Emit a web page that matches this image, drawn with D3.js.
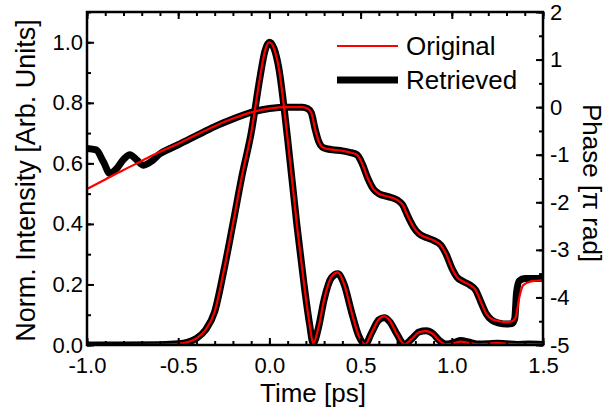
<!DOCTYPE html>
<html>
<head>
<meta charset="utf-8">
<script src="https://cdn.jsdelivr.net/npm/d3@7"></script>
<style>
	html, body { margin: 0; padding: 0; background: #fff; }
	svg { display: block; font-family: "Liberation Sans", Arial, sans-serif; }
</style>
</head>
<body>
<div id="chart"></div>
<script>
// intensity (left axis)
var timeI = [-1.0, -0.8, -0.6, -0.5, -0.45, -0.4, -0.35, -0.3, -0.25, -0.2, -0.15, -0.1, -0.05, -0.025, 0.0, 0.025, 0.05, 0.1, 0.15, 0.19, 0.22, 0.24,
	0.27, 0.30, 0.34, 0.375, 0.41, 0.45, 0.49, 0.525, 0.56, 0.60, 0.63, 0.66, 0.70, 0.74, 0.78, 0.82, 0.86, 0.90, 0.93, 0.97,
	1.01, 1.05, 1.09, 1.15, 1.20, 1.25, 1.30, 1.36, 1.42, 1.5];
var intensityOrig = [0.0, 0.0, 0.001, 0.004, 0.009, 0.022, 0.05, 0.11, 0.245, 0.40, 0.56, 0.70, 0.89, 0.97, 1.0, 0.98, 0.92, 0.68, 0.40, 0.20, 0.07, 0.005,
	0.06, 0.15, 0.225, 0.24, 0.20, 0.11, 0.03, 0.002, 0.04, 0.085, 0.095, 0.08, 0.035, 0.002, 0.02, 0.042, 0.046, 0.035, 0.015, 0.002,
	0.006, 0.011, 0.007, 0.002, 0.004, 0.007, 0.004, 0.002, 0.003, 0.002];
var intensityRetr = [0.0, 0.0, 0.001, 0.004, 0.009, 0.022, 0.05, 0.11, 0.245, 0.40, 0.56, 0.70, 0.89, 0.97, 1.0, 0.98, 0.92, 0.68, 0.40, 0.20, 0.07, 0.005,
	0.06, 0.15, 0.222, 0.235, 0.20, 0.11, 0.03, 0.002, 0.04, 0.083, 0.09, 0.077, 0.035, 0.002, 0.02, 0.043, 0.047, 0.036, 0.016, 0.003,
	0.008, 0.015, 0.01, 0.003, 0.004, 0.006, 0.004, 0.002, 0.003, 0.002];

// phase (right axis, pi rad)
var timeP = [-1.0, -0.9, -0.8, -0.7, -0.6, -0.5, -0.4, -0.3, -0.2, -0.1, 0.0, 0.1, 0.18, 0.21, 0.23, 0.25, 0.27, 0.29, 0.32, 0.36,
	0.40, 0.44, 0.48, 0.51, 0.54, 0.57, 0.60, 0.65, 0.70, 0.73, 0.76, 0.79, 0.82, 0.86, 0.90, 0.94, 0.97, 1.00, 1.03, 1.06,
	1.10, 1.13, 1.16, 1.19, 1.22, 1.26, 1.30, 1.33, 1.35, 1.37, 1.39, 1.42, 1.46, 1.5];
var phaseOrig = [-1.72, -1.52, -1.32, -1.13, -0.94, -0.77, -0.58, -0.40, -0.24, -0.11, -0.03, 0.0, 0.0, -0.03, -0.12, -0.45, -0.72, -0.84, -0.88, -0.90,
	-0.92, -0.95, -1.0, -1.2, -1.5, -1.72, -1.82, -1.88, -1.95, -2.05, -2.3, -2.52, -2.66, -2.74, -2.8, -2.9, -3.1, -3.38, -3.58, -3.66,
	-3.74, -3.84, -4.1, -4.35, -4.46, -4.5, -4.52, -4.5, -4.42, -4.0, -3.75, -3.68, -3.65, -3.64];

var timePR = [-1.0, -0.95, -0.91, -0.875, -0.84, -0.8, -0.765, -0.73, -0.69, -0.64, -0.6, -0.55, -0.5, -0.4, -0.3, -0.2, -0.1, 0.0, 0.1, 0.18,
	0.21, 0.23, 0.25, 0.27, 0.29, 0.32, 0.36, 0.40, 0.44, 0.48, 0.51, 0.54, 0.57, 0.60, 0.65, 0.70, 0.73, 0.76, 0.79, 0.82,
	0.86, 0.90, 0.94, 0.97, 1.00, 1.03, 1.06, 1.10, 1.13, 1.16, 1.19, 1.22, 1.26, 1.30, 1.33, 1.345, 1.355, 1.37, 1.40, 1.5];
var phaseRetr = [-0.87, -0.9, -1.15, -1.39, -1.3, -1.1, -1.0, -1.1, -1.22, -1.12, -0.98, -0.88, -0.79, -0.60, -0.41, -0.25, -0.11, -0.03, 0.0, 0.0,
	-0.03, -0.12, -0.45, -0.72, -0.84, -0.88, -0.90, -0.92, -0.95, -1.0, -1.2, -1.5, -1.72, -1.82, -1.88, -1.95, -2.05, -2.3, -2.52, -2.66,
	-2.74, -2.8, -2.9, -3.1, -3.38, -3.58, -3.66, -3.74, -3.84, -4.1, -4.35, -4.48, -4.54, -4.56, -4.55, -4.45, -3.9, -3.65, -3.6, -3.6];

var xTicks = [-1.0, -0.5, 0.0, 0.5, 1.0, 1.5];
var xTickLabels = ["-1.0", "-0.5", "0.0", "0.5", "1.0", "1.5"];
var yTicks = [0.0, 0.2, 0.4, 0.6, 0.8, 1.0];
var yTickLabels = ["0.0", "0.2", "0.4", "0.6", "0.8", "1.0"];
var y2Ticks = [-5, -4, -3, -2, -1, 0, 1, 2];
var y2TickLabels = ["-5", "-4", "-3", "-2", "-1", "0", "1", "2"];

var legendNames = ["Original", "Retrieved"];

function drawChart() {
	var width = 608,
		height = 416,
		margin = { top: 12, right: 65, bottom: 71, left: 87 },
		iw = width - margin.left - margin.right,
		ih = height - margin.top - margin.bottom,
		i;

	var svg = d3.select("#chart")
		.append("svg")
		.attr("width", width)
		.attr("height", height);

	var g = svg.append("g")
		.attr("transform", "translate(" + margin.left + "," + margin.top + ")");

	var x = d3.scaleLinear().domain([-1.0, 1.5]).range([0, iw]);
	var y = d3.scaleLinear().domain([0, 1.1]).range([ih, 0]);
	var y2 = d3.scaleLinear().domain([-5, 2]).range([ih, 0]);

	g.append("clipPath").attr("id", "clip")
		.append("rect").attr("width", iw).attr("height", ih);

	var plot = g.append("g").attr("clip-path", "url(#clip)");

	var lineI = d3.line()
		.x(function (d) { return x(d[0]); })
		.y(function (d) { return y(d[1]); })
		.curve(d3.curveMonotoneX);
	var lineP = d3.line()
		.x(function (d) { return x(d[0]); })
		.y(function (d) { return y2(d[1]); })
		.curve(d3.curveMonotoneX);

	var iO = d3.zip(timeI, intensityOrig),
		iR = d3.zip(timeI, intensityRetr),
		pO = d3.zip(timeP, phaseOrig),
		pR = d3.zip(timePR, phaseRetr);

	// retrieved (thick black) underneath
	plot.append("path").datum(pR)
		.attr("d", lineP).attr("fill", "none")
		.attr("stroke", "#000").attr("stroke-width", 7).attr("stroke-linejoin", "round");
	plot.append("path").datum(iR)
		.attr("d", lineI).attr("fill", "none")
		.attr("stroke", "#000").attr("stroke-width", 7).attr("stroke-linejoin", "round");

	// original (red) on top
	plot.append("path").datum(pO)
		.attr("d", lineP).attr("fill", "none")
		.attr("stroke", "#ff0000").attr("stroke-width", 2.2);
	plot.append("path").datum(iO)
		.attr("d", lineI).attr("fill", "none")
		.attr("stroke", "#ff0000").attr("stroke-width", 2.2);

	// axes: inward ticks, major + minor
	function minor(lo, hi, step) {
		return d3.range(Math.round((hi - lo) / step) + 1).map(function (k) { return +(lo + k * step).toFixed(4); });
	}

	function styleAxis(sel) {
		sel.select(".domain").remove();
		sel.selectAll("line").attr("stroke", "#000").attr("stroke-width", 2);
		sel.selectAll("text").attr("fill", "#000").style("font-size", "22px");
	}

	var xMin = minor(-1.0, 1.5, 0.1),
		yMin = minor(0, 1.1, 0.1),
		y2Min = minor(-5, 2, 0.5);

	// bottom
	g.append("g").attr("transform", "translate(0," + ih + ")")
		.call(d3.axisTop(x).tickValues(xMin).tickSize(4).tickFormat(""))
		.call(styleAxis);
	g.append("g").attr("transform", "translate(0," + ih + ")")
		.call(d3.axisBottom(x).tickValues(xTicks).tickSize(0).tickPadding(7)
			.tickFormat(function (d, k) { return xTickLabels[k]; }))
		.call(styleAxis)
		.selectAll("text").attr("dy", "0.95em");
	g.append("g").attr("transform", "translate(0," + ih + ")")
		.call(d3.axisTop(x).tickValues(xTicks).tickSize(7).tickFormat(""))
		.call(styleAxis);

	// top
	g.append("g")
		.call(d3.axisBottom(x).tickValues(xMin).tickSize(4).tickFormat(""))
		.call(styleAxis);
	g.append("g")
		.call(d3.axisBottom(x).tickValues(xTicks).tickSize(7).tickFormat(""))
		.call(styleAxis);

	// left
	g.append("g")
		.call(d3.axisRight(y).tickValues(yMin).tickSize(4).tickFormat(""))
		.call(styleAxis);
	g.append("g")
		.call(d3.axisRight(y).tickValues(yTicks).tickSize(7).tickFormat(""))
		.call(styleAxis);
	g.append("g")
		.call(d3.axisLeft(y).tickValues(yTicks).tickSize(0).tickPadding(4)
			.tickFormat(function (d, k) { return yTickLabels[k]; }))
		.call(styleAxis);

	// right
	g.append("g").attr("transform", "translate(" + iw + ",0)")
		.call(d3.axisLeft(y2).tickValues(y2Min).tickSize(4).tickFormat(""))
		.call(styleAxis);
	g.append("g").attr("transform", "translate(" + iw + ",0)")
		.call(d3.axisLeft(y2).tickValues(y2Ticks).tickSize(7).tickFormat(""))
		.call(styleAxis);
	g.append("g").attr("transform", "translate(" + iw + ",0)")
		.call(d3.axisRight(y2).tickValues(y2Ticks).tickSize(0).tickPadding(7)
			.tickFormat(function (d, k) { return y2TickLabels[k]; }))
		.call(styleAxis);

	// frame
	g.append("rect")
		.attr("width", iw).attr("height", ih)
		.attr("fill", "none").attr("stroke", "#000").attr("stroke-width", 2.5);

	// titles
	svg.append("text")
		.attr("x", margin.left + x(0.25) - 2).attr("y", 402)
		.attr("text-anchor", "middle").style("font-size", "26px")
		.text("Time [ps]");
	svg.append("text")
		.attr("transform", "translate(35," + (margin.top + ih / 2 + 2) + ") rotate(-90)")
		.attr("text-anchor", "middle").style("font-size", "27px")
		.text("Norm. Intensity [Arb. Units]");
	svg.append("text")
		.attr("transform", "translate(583," + 183 + ") rotate(90)")
		.attr("text-anchor", "middle").style("font-size", "26px")
		.text("Phase [\u03c0 rad]");

	// legend
	var leg = svg.append("g").attr("transform", "translate(337,46)");
	for (i = 0; i < legendNames.length; i++)
	{
		leg.append("line")
			.attr("x1", 0).attr("x2", 61)
			.attr("y1", i * 34).attr("y2", i * 34)
			.attr("stroke", i == 0 ? "#ff0000" : "#000")
			.attr("stroke-width", i == 0 ? 2.2 : 7);
		leg.append("text")
			.attr("x", 69).attr("y", i * 34)
			.attr("dy", "0.36em")
			.style("font-size", "26px")
			.text(legendNames[i]);
	}
}

drawChart();
</script>
</body>
</html>
